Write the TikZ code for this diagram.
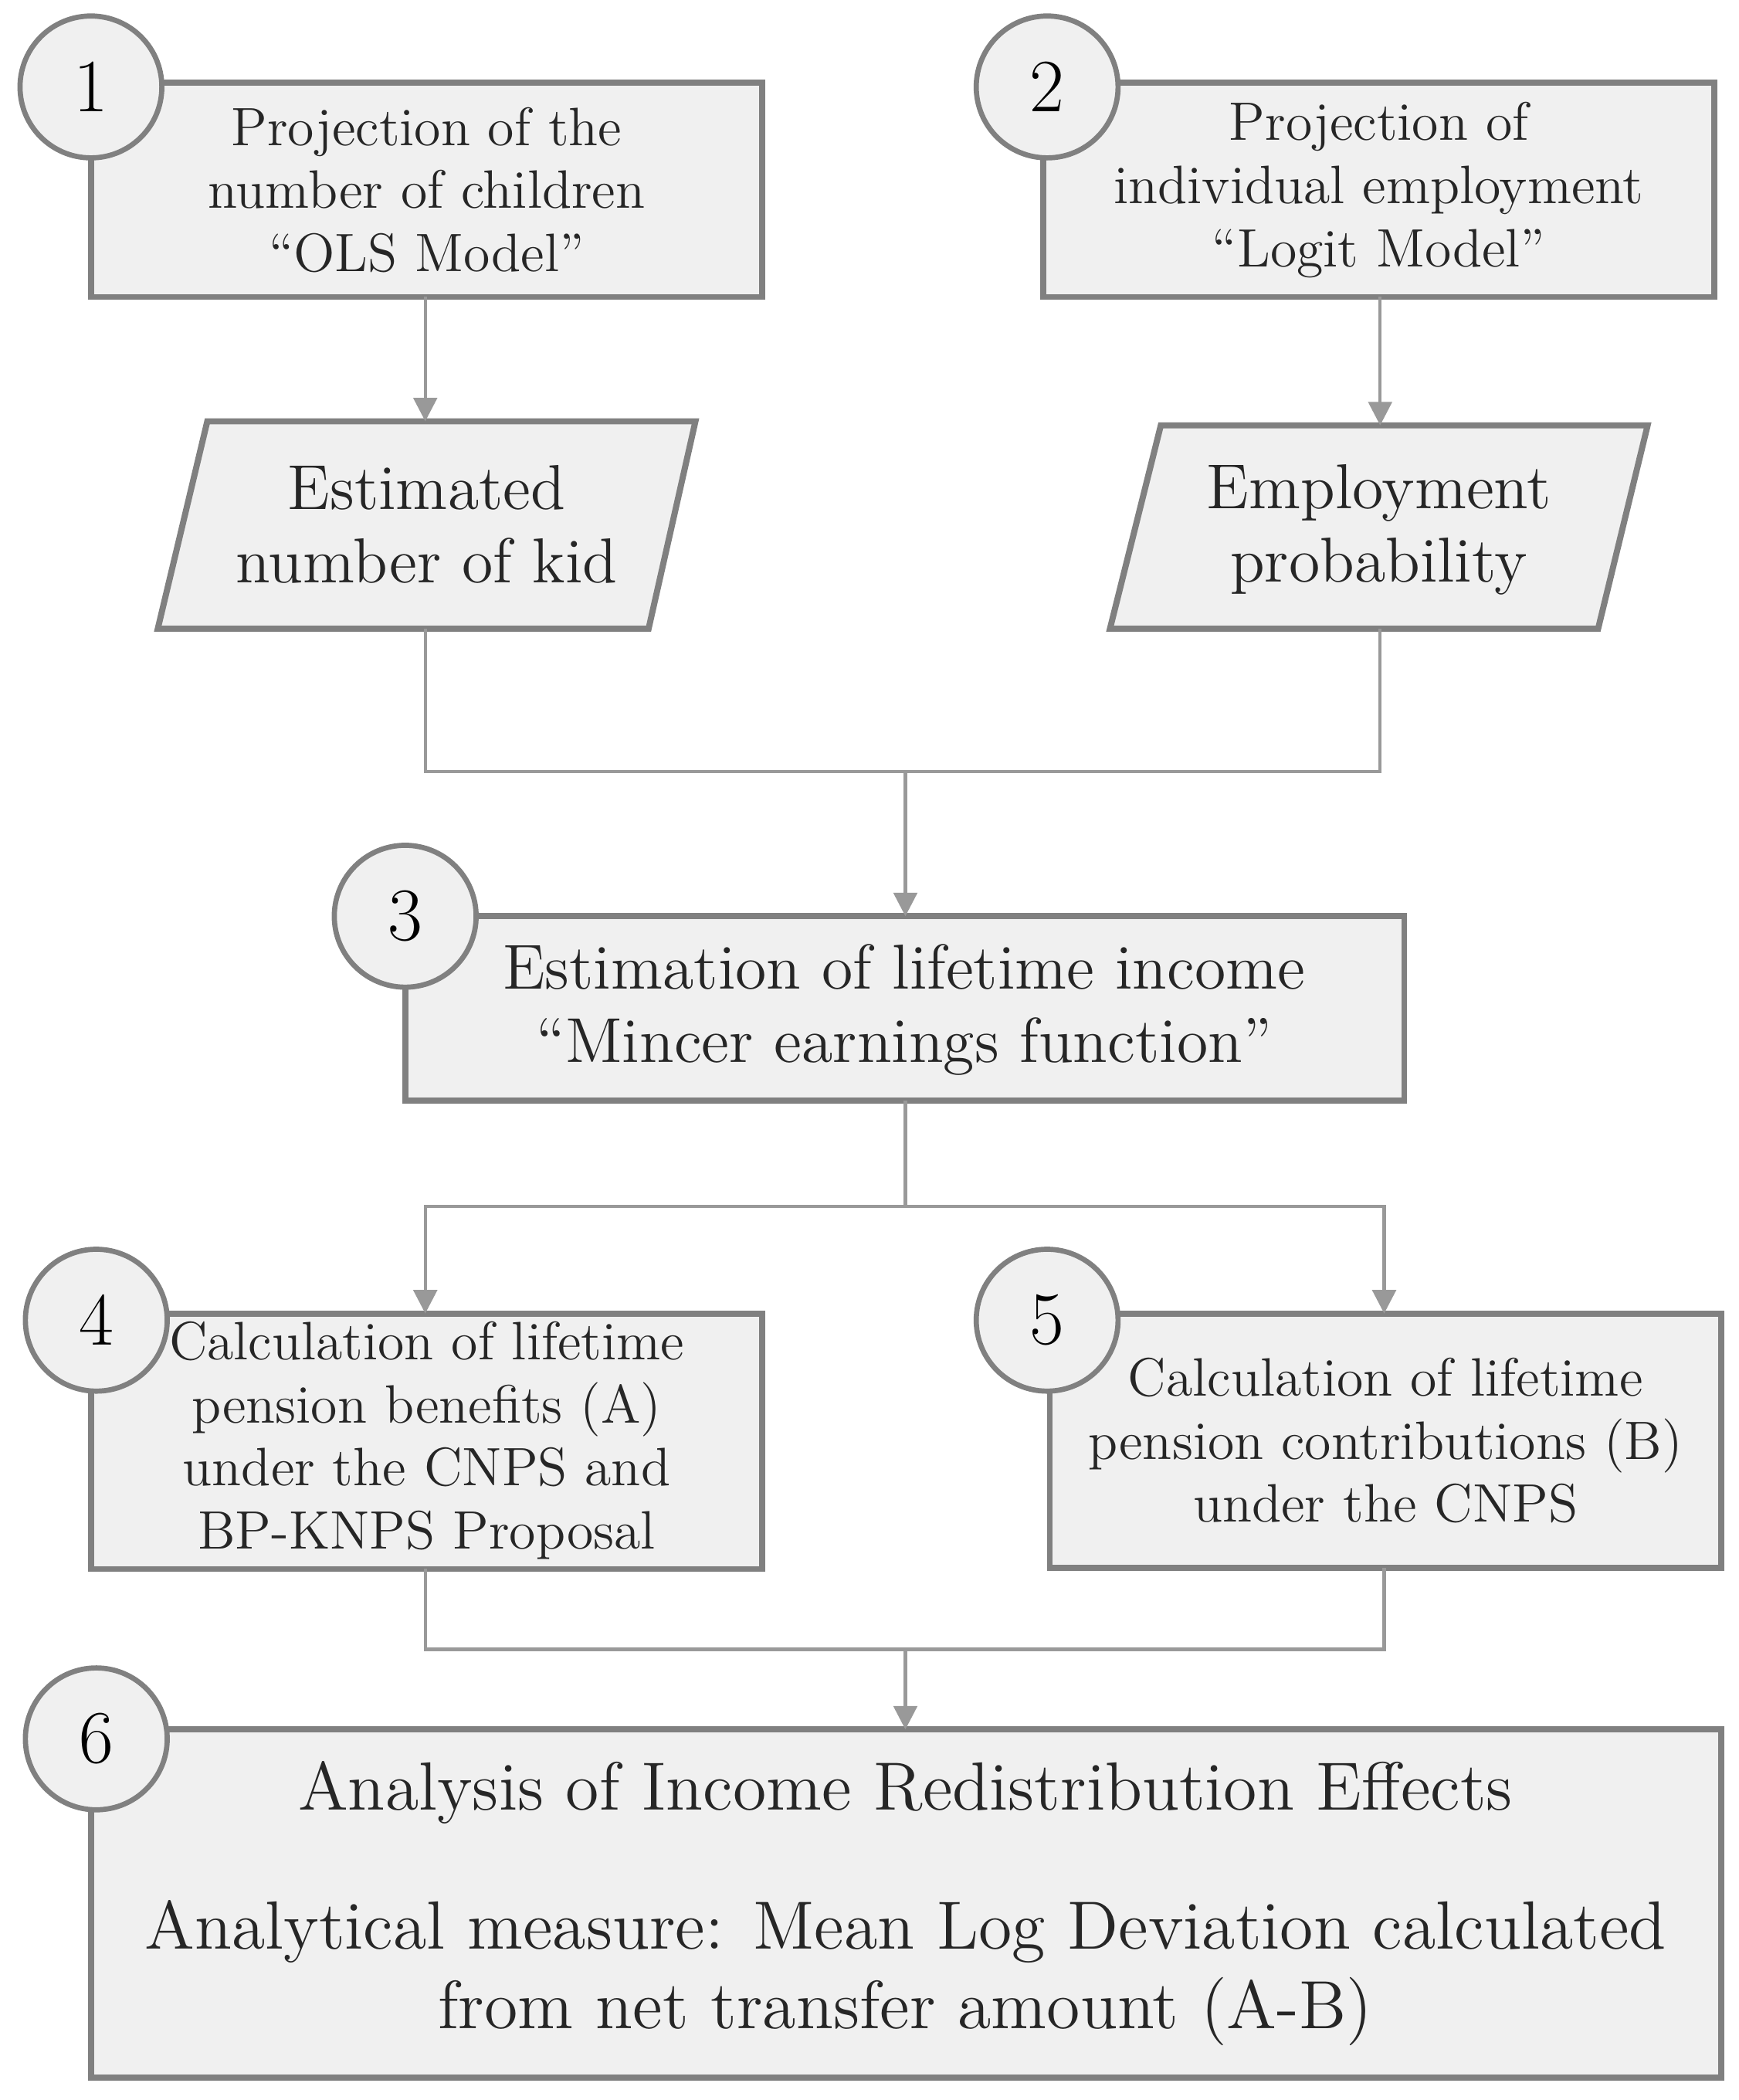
\documentclass[tikz,border=0pt]{standalone}
\usetikzlibrary{shapes.geometric,arrows.meta}
\begin{document}
\begin{tikzpicture}[x=0.01cm,y=-0.01cm,
  box/.style={draw=black!50,fill=black!6,line width=1.3pt},
  num/.style={circle,draw=black!50,fill=black!6,line width=1.1pt,minimum size=1.06cm,inner sep=0pt,font=\fontsize{16}{16}\selectfont},
  txt/.style={align=center,font=\fontsize{11.5}{13.4}\selectfont,text=black!85},
  conn/.style={draw=black!40,line width=0.7pt},
  arr/.style={conn,-{Triangle[length=5pt,width=5pt]}}]
\useasboundingbox (0,0) rectangle (1300,1570);
% boxes
\draw[box] (68,62) rectangle (570,222); \node[txt] (b1) at (319,142) {Projection of the\\number of children\\``OLS Model''};
\draw[box] (780,62) rectangle (1282,222); \node[txt] (b2) at (1031,142) {Projection of\\individual employment\\``Logit Model''};
\draw[box] (155,315) -- (520,315) -- (485,470) -- (118,470) -- cycle;
\node[txt,font=\fontsize{13.5}{15.5}\selectfont] (p1) at (319,392) {Estimated\\number of kid};
\draw[box] (868,318) -- (1232,318) -- (1195,470) -- (830,470) -- cycle;
\node[txt,font=\fontsize{13.5}{15.5}\selectfont] (p2) at (1031,396) {Employment\\probability};
\draw[box] (303,685) rectangle (1050,823); \node[txt,font=\fontsize{13.5}{15.5}\selectfont] (b3) at (676,755) {Estimation of lifetime income\\``Mincer earnings function''};
\draw[box] (68,982) rectangle (570,1173); \node[txt] (b4) at (319,1077) {Calculation of lifetime\\pension benefits (A)\\under the CNPS and\\BP-KNPS Proposal};
\draw[box] (785,982) rectangle (1287,1172); \node[txt] (b5) at (1036,1077) {Calculation of lifetime\\pension contributions (B)\\under the CNPS};
\draw[box] (68,1293) rectangle (1287,1553);
\node[txt,font=\fontsize{14.5}{17}\selectfont] (b6t) at (677,1340) {Analysis of Income Redistribution Effects};
\node[txt,font=\fontsize{14.5}{17}\selectfont] (b6) at (677,1475) {Analytical measure: Mean Log Deviation calculated\\from net transfer amount (A-B)};
% numbers
\node[num] (n1) at (68,65) {1};
\node[num] (n2) at (783,65) {2};
\node[num] (n3) at (303,685) {3};
\node[num] (n4) at (72,987) {4};
\node[num] (n5) at (783,987) {5};
\node[num] (n6) at (72,1300) {6};
% connectors
\coordinate (j1) at (677,577); \coordinate (j2) at (677,902); \coordinate (j3) at (677,1233);
\draw[arr] (318,222) -- (318,315);
\draw[arr] (1032,222) -- (1032,318);
\draw[conn] (318,470) |- (j1) -| (1032,470);
\draw[arr] (j1) -- (677,685);
\draw[conn] (677,823) -- (j2);
\draw[arr] (j2) -| (318,982);
\draw[arr] (j2) -| (1035,982);
\draw[conn] (318,1173) |- (j3) -| (1035,1172);
\draw[arr] (j3) -- (677,1293);
\end{tikzpicture}
\end{document}
